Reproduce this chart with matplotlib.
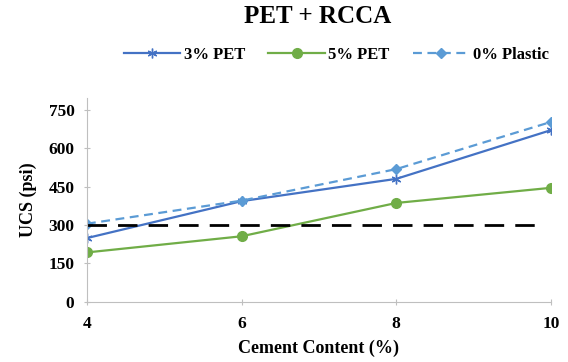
import numpy as np
import matplotlib.pyplot as plt

# cement content (%) and UCS (psi)
cement = [4, 6, 8, 10]
pet3 = [249, 393, 480, 670]
pet5 = [193, 256, 386, 445]
plastic0 = [305, 395, 518, 702]
target_x = [4, 9.85]
target_y = [301, 301]

plt.rcParams['font.family'] = ['Liberation Serif', 'DejaVu Serif']
plt.rcParams['font.weight'] = 'bold'

fig = plt.figure(figsize=(5.68, 3.62), dpi=100)
ax = fig.add_axes([0.153, 0.166, 0.817, 0.563])

ax.plot(cement, pet3, color='#4472C4', lw=1.6, marker=(6, 2, 0), ms=7, mew=1,
        label='3% PET')
ax.plot(cement, pet5, color='#70AD47', lw=1.6, marker='o', ms=7,
        label='5% PET')
ax.plot(cement, plastic0, color='#5B9BD5', lw=1.6, ls=(0, (4, 2.5)),
        marker='D', ms=5, label='0% Plastic')
ax.plot(target_x, target_y, color='black', lw=2, ls=(0, (7, 4)))

ax.set_xlim(4, 10)
ax.set_ylim(0, 795)
ax.set_xticks([4, 6, 8, 10])
ax.set_yticks(np.arange(0, 751, 150))
ax.tick_params(axis='both', colors='#BFBFBF', labelcolor='black',
               labelsize=12.5, length=4, direction='inout')
ax.tick_params(axis='x', pad=8)
ax.tick_params(axis='y', pad=7)
for lbl in ax.get_xticklabels() + ax.get_yticklabels():
    lbl.set_fontweight('bold')
for s in ['top', 'right']:
    ax.spines[s].set_visible(False)
for s in ['left', 'bottom']:
    ax.spines[s].set_color('#BFBFBF')

ax.set_xlabel('Cement Content (%)', fontsize=13, fontweight='bold', labelpad=6)
ax.set_ylabel('UCS (psi)', fontsize=13, fontweight='bold', labelpad=8)

fig.suptitle('PET + RCCA', x=0.56, y=0.985, fontsize=18, fontweight='bold')
fig.legend(loc='center', bbox_to_anchor=(0.592, 0.848), ncol=3, frameon=False,
           prop={'size': 12, 'weight': 'bold'}, handlelength=3.4,
           columnspacing=1.4, handletextpad=0.2)

fig.savefig('out.png', dpi=100)
